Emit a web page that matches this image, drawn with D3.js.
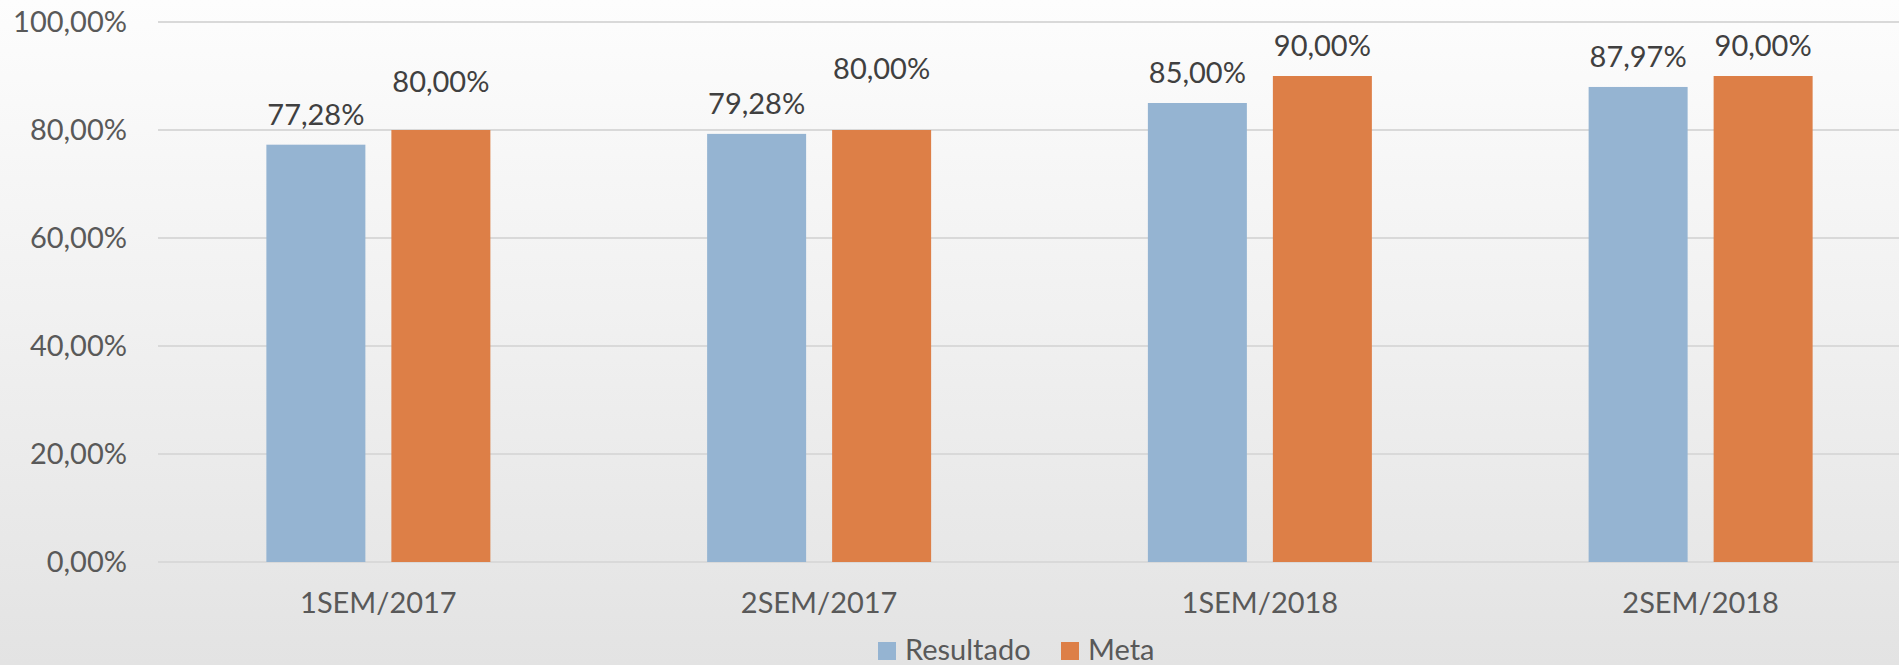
<!DOCTYPE html>
<html>
<head>
<meta charset="utf-8">
<script src="https://cdn.jsdelivr.net/npm/d3@7"></script>
<style>
  html, body { margin: 0; padding: 0; }
  body { width: 1899px; height: 665px; overflow: hidden; font-family: Lato, "Open Sans", sans-serif; }
</style>
</head>
<body>
<svg id="chart" width="1899" height="665"></svg>
<script>
// chart values
const categories = ['1SEM/2017', '2SEM/2017', '1SEM/2018', '2SEM/2018'];
const resultado = [77.28, 79.28, 85.00, 87.97];
const meta = [80.00, 80.00, 90.00, 90.00];
const yTicks = [0, 20, 40, 60, 80, 100];
const seriesNames = ['Resultado', 'Meta'];
const seriesColors = ['#95b4d2', '#dd7f47'];

// the two 80,00% labels were dragged up by hand in the original
const metaLabelLift = [18, 31, 0, 0];

const svg = d3.select('#chart'),
    width = +svg.attr('width'),
    height = +svg.attr('height');

const margin = {top: 22, left: 158, bottom: 103};
const plotRight = 1921;
const fontSize = 29;

let fmt = (v) => v.toFixed(2).replace('.', ',') + '%';

// background gradient
let defs = svg.append('defs');
let grad = defs.append('linearGradient')
  .attr('id', 'bg')
  .attr('x1', 0).attr('y1', 0)
  .attr('x2', 0).attr('y2', 1);
grad.append('stop').attr('offset', '0%').attr('stop-color', '#fdfdfd');
grad.append('stop').attr('offset', '100%').attr('stop-color', '#e3e3e3');

svg.append('rect')
  .attr('width', width)
  .attr('height', height)
  .attr('fill', 'url(#bg)');

let y = d3.scaleLinear()
  .domain([0, 100])
  .range([height - margin.bottom, margin.top]);

let x = d3.scaleBand()
  .domain(categories)
  .range([margin.left, plotRight]);

// gridlines
svg.append('g')
  .selectAll('line')
  .data(yTicks)
  .enter().append('line')
    .attr('x1', margin.left)
    .attr('x2', plotRight)
    .attr('y1', (d) => y(d))
    .attr('y2', (d) => y(d))
    .attr('stroke', '#d9d9d9')
    .attr('stroke-width', 2);

// y axis labels
svg.append('g')
  .selectAll('text')
  .data(yTicks)
  .enter().append('text')
    .text((d) => fmt(d))
    .attr('x', 127)
    .attr('y', (d) => y(d) + 10)
    .attr('text-anchor', 'end')
    .attr('font-size', fontSize)
    .attr('fill', '#595959');

const barW = 99, gap = 26;

let groups = svg.append('g')
  .selectAll('g')
  .data(categories.map((c, i) => ({cat: c, values: [resultado[i], meta[i]], lift: [0, metaLabelLift[i]]})))
  .enter().append('g')
    .attr('transform', (d) => `translate(${x(d.cat) + x.bandwidth() / 2},0)`);

let bars = groups.selectAll('g')
  .data((d) => d.values.map((v, j) => ({v, j, lift: d.lift[j]})))
  .enter().append('g');

bars.append('rect')
  .attr('x', (d) => d.j === 0 ? -gap / 2 - barW : gap / 2)
  .attr('y', (d) => y(d.v))
  .attr('width', barW)
  .attr('height', (d) => y(0) - y(d.v))
  .attr('fill', (d) => seriesColors[d.j]);

bars.append('text')
  .text((d) => fmt(d.v))
  .attr('x', (d) => d.j === 0 ? -gap / 2 - barW / 2 : gap / 2 + barW / 2)
  .attr('y', (d) => y(d.v) - 20 - d.lift)
  .attr('text-anchor', 'middle')
  .attr('font-size', fontSize)
  .attr('fill', '#404040');

// category labels
svg.append('g')
  .selectAll('text')
  .data(categories)
  .enter().append('text')
    .text((d) => d)
    .attr('x', (d) => x(d) + x.bandwidth() / 2)
    .attr('y', 613)
    .attr('text-anchor', 'middle')
    .attr('font-size', fontSize)
    .attr('fill', '#595959');

// legend
const legendX = [878, 1061];
let legend = svg.append('g')
  .selectAll('g')
  .data(seriesNames)
  .enter().append('g')
    .attr('transform', (d, i) => `translate(${legendX[i]},642)`);

legend.append('rect')
  .attr('width', 18)
  .attr('height', 18)
  .attr('fill', (d, i) => seriesColors[i]);

legend.append('text')
  .text((d) => d)
  .attr('x', 27)
  .attr('y', 18)
  .attr('font-size', fontSize)
  .attr('fill', '#595959');
</script>
</body>
</html>
